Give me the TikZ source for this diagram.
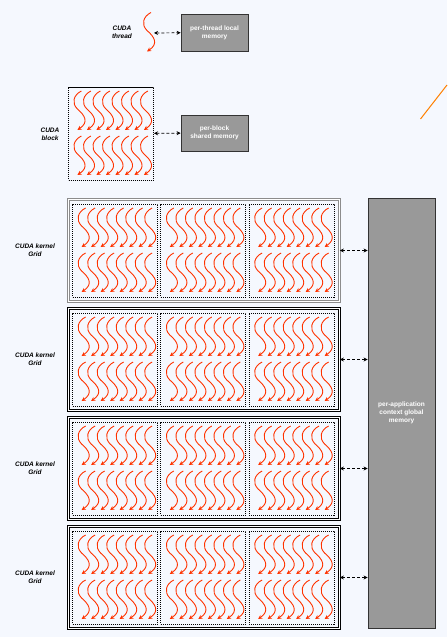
\documentclass[tikz,border=0pt]{standalone}
\usepackage{fontspec}
\setmainfont{Liberation Sans}
\usetikzlibrary{calc,positioning,arrows.meta,shapes}
\definecolor{bgcol}{RGB}{245,248,254}
\definecolor{thrcol}{RGB}{255,51,0}
\definecolor{memgray}{RGB}{153,153,153}
\tikzset{
	wavy/.style={draw=thrcol, line width=0.9pt, -{Stealth[length=4.2pt,width=4.2pt]}},
	membox/.style={draw=black!80, line width=0.8pt, fill=memgray, text=white, font=\fontsize{6.5}{8}\selectfont\bfseries, align=center, inner sep=0pt},
	lbl/.style={font=\fontsize{6.5}{8}\selectfont\bfseries\itshape, align=center},
	blockbox/.style={draw=black, line width=1pt, dash pattern=on 1.2pt off 0.8pt, minimum width=85pt, minimum height=93pt, inner sep=0pt},
	gridbox/.style={draw=#1, line width=0.7pt, double=white, double distance=1.1pt, minimum width=271pt, minimum height=102pt, inner sep=0pt},
	memarrow/.style={densely dashed, {Stealth[length=4pt,width=4pt]}-{Stealth[length=4pt,width=4pt]}, line width=0.7pt},
	pics/onethread/.style={code={\draw[wavy] (0,0) .. controls (-8,4) and (-10,12) .. (-4,18) .. controls (3,24) and (8,31) .. (-4,39);}},
	pics/threads/.style={code={
		\foreach \r in {4.5,49.5}
			\foreach \i in {0,...,7}
				\pic at ({13.4+9.5*\i},\r) {onethread};
	}}
}
\begin{document}
\begin{tikzpicture}[x=1pt,y=-1pt]
	\fill[bgcol] (0,0) rectangle (447,637);
	\useasboundingbox (0,0) rectangle (447,637);
	\node[lbl] (thrlbl) at (122,32) {CUDA\\thread};
	\pic at (151,12.5) {onethread};
	\coordinate (thr) at (154,33);
	\node[membox, minimum width=67pt, minimum height=37pt] (localmem) at (214.5,32.5) {per-thread local\\memory};
	\node[blockbox] (blk) at (111,133.5) {};
	\pic at (blk.north west) {threads};
	\node[lbl] (blklbl) at (50,134) {CUDA\\block};
	\node[membox, minimum width=67pt, minimum height=36pt] (sharedmem) at (214.5,133) {per-block\\shared memory};
	\node[membox, minimum width=67pt, minimum height=430pt] (globalmem) at (401.5,413) {per-application\\context global\\memory};
	\foreach \g/\y/\c in {1/250.5/black!45, 2/359.5/black, 3/468.5/black, 4/577.5/black} {
		\node[gridbox=\c] (grid\g) at (204,\y) {};
		\foreach \b/\x in {1/115.2,2/203.4,3/291.7} {
			\node[blockbox] (grid\g-\b) at (\x,\y) {};
			\pic at (grid\g-\b.north west) {threads};
		}
		\node[lbl] (gridlbl\g) at (35,\y) {CUDA kernel\\Grid};
		\draw[memarrow] (grid\g.east) -- (globalmem.west |- grid\g.east);
	}
	\path[memarrow]
		(thr) edge (localmem)
		(blk) edge (sharedmem);
	%\draw[dashed,->] (blk) -- (sharedmem);
	\draw[orange, line width=1pt] (420.5,119) -- (447,85);
\end{tikzpicture}
\end{document}
